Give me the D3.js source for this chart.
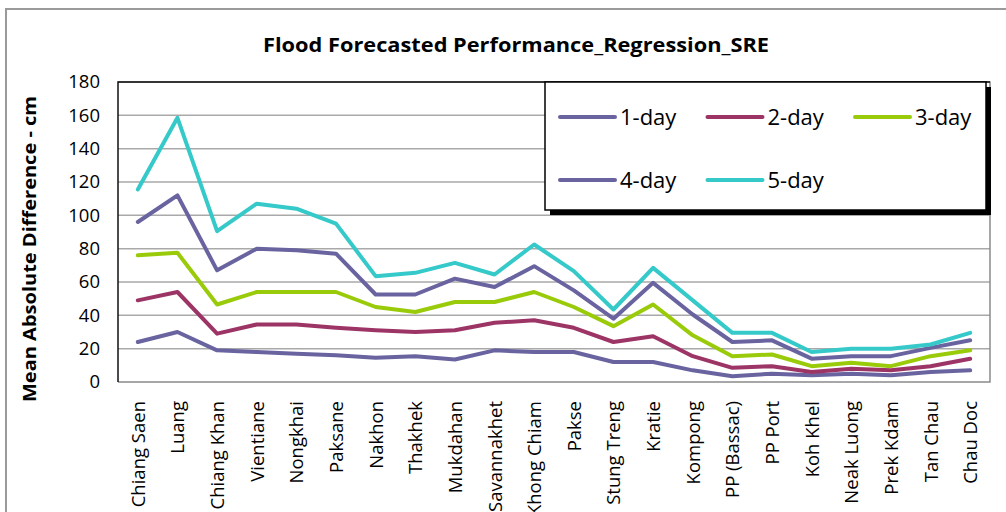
<!DOCTYPE html>
<html>
<head>
<meta charset="utf-8">
<script src="https://cdn.jsdelivr.net/npm/d3@7"></script>
<style>
  html, body { margin: 0; padding: 0; background: #fff; }
  svg { display: block; }
  text { font-family: "Open Sans", "Noto Sans", sans-serif; fill: #000; }
</style>
</head>
<body>
<svg id="chart" width="1006" height="512"></svg>
<script>
// Gauging stations along the river, upstream to downstream
const stations = ["Chiang Saen", "Luang", "Chiang Khan", "Vientiane", "Nongkhai", "Paksane",
  "Nakhon", "Thakhek", "Mukdahan", "Savannakhet", "Khong Chiam", "Pakse", "Stung Treng",
  "Kratie", "Kompong", "PP (Bassac)", "PP Port", "Koh Khel", "Neak Luong", "Prek Kdam",
  "Tan Chau", "Chau Doc"];

// Mean absolute difference (cm) per forecast lead time
const day1 = [24, 30, 19, 18, 17, 16, 14.5, 15.5, 13.5, 19, 18, 18, 12, 12, 7, 3.5, 5, 4, 5, 4, 6, 7];
const day2 = [49, 54, 29, 34.5, 34.5, 32.5, 31, 30, 31, 35.5, 37, 32.5, 24, 27.5, 15.5, 8.5, 9.5, 6, 8, 7, 9.5, 14];
const day3 = [76, 77.5, 46.5, 54, 54, 54, 45, 42, 48, 48, 54, 45, 33.5, 46.5, 28, 15.5, 16.5, 9.5, 11.5, 9.5, 15.5, 19];
const day4 = [96, 112, 67, 80, 79, 77, 52.5, 52.5, 62, 57, 69.5, 55, 38, 59.5, 40.5, 24, 25, 14, 15.5, 15.5, 20.5, 25];
const day5 = [115.5, 158.5, 90.5, 107, 104, 95, 63.5, 65.5, 71.5, 64.5, 82.5, 66.5, 43.5, 68.5, 49, 29.5, 29.5, 18, 20, 20, 22.5, 29.5];

const seriesNames = ["1-day", "2-day", "3-day", "4-day", "5-day"];
const seriesColors = ["#69649f", "#9c3566", "#9acb0a", "#69649f", "#35c9c9"];
const yTicks = [0, 20, 40, 60, 80, 100, 120, 140, 160, 180];

const series = [day1, day2, day3, day4, day5].map((values, i) => ({
  name: seriesNames[i], color: seriesColors[i], values
}));

const svg = d3.select("#chart");
const plot = { left: 118, right: 990, top: 82, bottom: 382 };

// outer chart frame
svg.append("path")
  .attr("d", "M6,512 V9 H1006")
  .attr("fill", "none")
  .attr("stroke", "#9a9a9a")
  .attr("stroke-width", 2);

const x = d3.scaleBand().domain(stations).range([plot.left, plot.right]).padding(0);
const y = d3.scaleLinear().domain([0, 180]).range([plot.bottom, plot.top]);

// horizontal gridlines
svg.append("g")
  .selectAll("line")
  .data(yTicks.filter(t => t > 0 && t < 180))
  .join("line")
  .attr("x1", plot.left).attr("x2", plot.right)
  .attr("y1", d => y(d)).attr("y2", d => y(d))
  .attr("stroke", "#a9a9a9")
  .attr("stroke-width", 1.5);

// plot area border
svg.append("path")
  .attr("d", `M${plot.left},${plot.top} H${plot.right} V${plot.bottom} H${plot.left}`)
  .attr("fill", "none").attr("stroke", "#8a8a8a").attr("stroke-width", 1.5);
svg.append("path")
  .attr("d", `M${plot.right},${plot.top} H${plot.left} V${plot.bottom}`)
  .attr("fill", "none").attr("stroke", "#111").attr("stroke-width", 1.5);

// y axis labels
const yAxis = d3.axisLeft(y).tickValues(yTicks).tickSize(0).tickPadding(18);
const yg = svg.append("g").attr("transform", `translate(${plot.left},0)`).call(yAxis);
yg.select(".domain").remove();
yg.selectAll("text")
  .attr("font-family", "'Open Sans', sans-serif")
  .attr("font-size", 18.5)
  .attr("fill", "#000");

// x axis labels, rotated
const xAxis = d3.axisBottom(x).tickSize(0).tickPadding(0);
const xg = svg.append("g").attr("transform", `translate(0,${plot.bottom})`).call(xAxis);
xg.select(".domain").remove();
xg.selectAll("text")
  .attr("font-family", "'Open Sans', sans-serif")
  .attr("font-size", 18.5)
  .attr("fill", "#000")
  .attr("text-anchor", "end")
  .attr("dy", null)
  .attr("y", 0)
  .attr("transform", "translate(7,19) rotate(-90)");

// series lines
const line = d3.line()
  .x((d, i) => x(stations[i]) + x.bandwidth() / 2)
  .y(d => y(d));

svg.append("g")
  .selectAll("path")
  .data(series)
  .join("path")
  .attr("d", d => line(d.values))
  .attr("fill", "none")
  .attr("stroke", d => d.color)
  .attr("stroke-width", 4)
  .attr("stroke-linejoin", "round")
  .attr("stroke-linecap", "round");

// title
svg.append("text")
  .attr("x", 516).attr("y", 52)
  .attr("text-anchor", "middle")
  .attr("font-weight", "bold")
  .attr("font-size", 19)
  .attr("textLength", 506)
  .attr("lengthAdjust", "spacingAndGlyphs")
  .text("Flood Forecasted Performance_Regression_SRE");

// y axis title
svg.append("text")
  .attr("transform", "translate(36,249) rotate(-90)")
  .attr("text-anchor", "middle")
  .attr("font-weight", "bold")
  .attr("font-size", 17)
  .attr("textLength", 306)
  .attr("lengthAdjust", "spacingAndGlyphs")
  .text("Mean Absolute Difference - cm");

// legend with drop shadow
const lg = svg.append("g");
const box = { x: 545, y: 82, w: 441, h: 128 };
lg.append("rect")
  .attr("x", box.x + 5).attr("y", box.y + 5)
  .attr("width", box.w).attr("height", box.h)
  .attr("fill", "#000");
lg.append("rect")
  .attr("x", box.x).attr("y", box.y)
  .attr("width", box.w).attr("height", box.h)
  .attr("fill", "#fff").attr("stroke", "#000").attr("stroke-width", 1.5);

const items = lg.selectAll("g.item")
  .data(series)
  .join("g")
  .attr("class", "item")
  .attr("transform", (d, i) => `translate(${560 + (i % 3) * 147.5},${i < 3 ? 117 : 180})`);
items.append("line")
  .attr("x1", 0).attr("x2", 55).attr("y1", 0).attr("y2", 0)
  .attr("stroke", d => d.color).attr("stroke-width", 4)
  .attr("stroke-linecap", "round");
items.append("text")
  .attr("x", 60).attr("y", 8)
  .attr("font-size", 22)
  .text(d => d.name);
</script>
</body>
</html>
